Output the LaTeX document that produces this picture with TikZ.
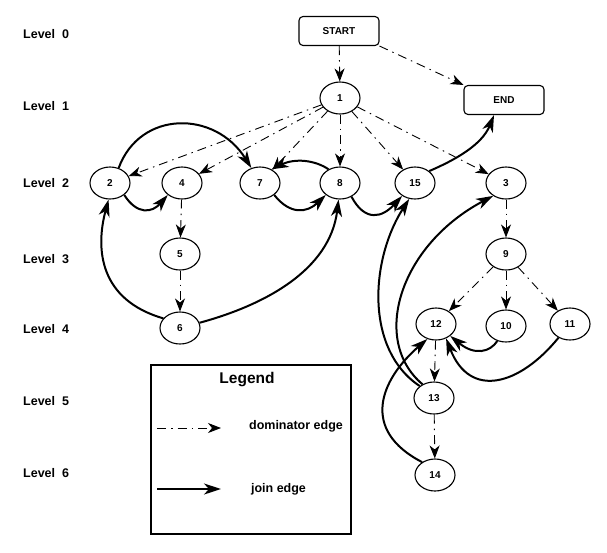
\documentclass[tikz,border=0pt]{standalone}
\usepackage{fontspec}
\setmainfont{Liberation Sans}
\usetikzlibrary{shapes.geometric,arrows.meta}
\begin{document}
\begin{tikzpicture}[x=1pt,y=-1pt,
  vert/.style={ellipse,draw,line width=1.1pt,minimum width=40pt,minimum height=32pt,inner sep=0pt,font=\bfseries\fontsize{10}{11}\selectfont},
  term/.style={rectangle,rounded corners=4pt,draw,line width=1.1pt,minimum width=80pt,minimum height=29pt,inner sep=0pt,font=\bfseries\fontsize{10}{11}\selectfont},
  lvl/.style={anchor=base west,inner sep=0pt,font=\bfseries\fontsize{12.5}{14}\selectfont},
  domedge/.style={line width=0.9pt,dash pattern=on 9pt off 5pt on 1.5pt off 5pt,-{Stealth[length=13pt,width=10pt,inset=4pt]}},
  joinedge/.style={line width=2pt,-{Stealth[length=17pt,width=11pt,inset=5pt]}}
]
\useasboundingbox (0,0) rectangle (607,552);
% levels
\node[lvl] (L0) at (23,38) {Level\ \ 0};
\node[lvl] (L1) at (23,110) {Level\ \ 1};
\node[lvl] (L2) at (23,187) {Level\ \ 2};
\node[lvl] (L3) at (23,263) {Level\ \ 3};
\node[lvl] (L4) at (23,333) {Level\ \ 4};
\node[lvl] (L5) at (23,405) {Level\ \ 5};
\node[lvl] (L6) at (23,477) {Level\ \ 6};
% nodes
\node[term] (start) at (339,31) {START};
\node[term] (end) at (504,100) {END};
\node[vert] (n1) at (340,98) {1};
\node[vert] (n2) at (110,183) {2};
\node[vert] (n4) at (182,183) {4};
\node[vert] (n7) at (260,183) {7};
\node[vert] (n8) at (340,183) {8};
\node[vert] (n15) at (415,183) {15};
\node[vert] (n3) at (506,183) {3};
\node[vert] (n5) at (180,254) {5};
\node[vert] (n6) at (180,328) {6};
\node[vert] (n9) at (506,254) {9};
\node[vert] (n12) at (436,324) {12};
\node[vert] (n10) at (506,326) {10};
\node[vert] (n11) at (570,324) {11};
\node[vert] (n13) at (434,398) {13};
\node[vert] (n14) at (435,475) {14};
% dominator edges
\draw[domedge] (start) -- (n1);
\draw[domedge] (start.south east) -- (end.north west);
\draw[domedge] (n1) -- (n2);
\draw[domedge] (n1) -- (n4);
\draw[domedge] (n1) -- (n7);
\draw[domedge] (n1) -- (n8);
\draw[domedge] (n1) -- (n15);
\draw[domedge] (n1) -- (n3);
\draw[domedge] (n4) -- (n5);
\draw[domedge] (n5) -- (n6);
\draw[domedge] (n3) -- (n9);
\draw[domedge] (n9) -- (n12);
\draw[domedge] (n9) -- (n10);
\draw[domedge] (n9) -- (n11);
\draw[domedge] (n12) -- (n13);
\draw[domedge] (n13) -- (n14);
% join edges
\draw[joinedge] (n2.60) .. controls (140,110) and (215,110) .. (n7.120);
\draw[joinedge] (n2.-40) .. controls (137,215) and (152,213) .. (n4.-140);
\draw[joinedge] (n7.-40) .. controls (290,215) and (307,213) .. (n8.-140);
\draw[joinedge] (n8.130) .. controls (315,160) and (295,158) .. (n7.50);
\draw[joinedge] (n8.-50) .. controls (365,222) and (382,218) .. (n15.-135);
\draw[joinedge] (n6.150) .. controls (100,300) and (95,250) .. (n2.-95);
\draw[joinedge] (n6.15) .. controls (265,305) and (330,270) .. (n8.-95);
\draw[joinedge] (n15.40) .. controls (455,160) and (482,145) .. ([xshift=-10pt]end.south);
\draw[joinedge] (n13.140) .. controls (365,350) and (370,260) .. (n15.-110);
\draw[joinedge] (n13.130) .. controls (370,340) and (400,245) .. (n3.-135);
\draw[joinedge] (n14.135) .. controls (360,430) and (380,380) .. (n12.-120);
\draw[joinedge] (n10.-120) .. controls (490,352) and (475,356) .. (n12.-40);
\draw[joinedge] (n11.-130) .. controls (520,385) and (470,400) .. (n12.-55);
% legend
\node[draw,line width=1.3pt,minimum width=200pt,minimum height=169pt,inner sep=0pt] (legend) at (251,449.5) {};
\node[font=\bfseries\fontsize{15.5}{17}\selectfont] (legtitle) at (247,380) {Legend};
\coordinate (d1) at (157,428);
\coordinate (d2) at (221,428);
\coordinate (j1) at (157,489);
\coordinate (j2) at (221,489);
\draw[domedge] (d1) -- (d2);
\draw[joinedge] (j1) -- (j2);
\node[font=\bfseries\fontsize{12.5}{14}\selectfont] (domtext) at (296,426) {dominator edge};
\node[font=\bfseries\fontsize{12.5}{14}\selectfont] (jointext) at (278.5,489) {join edge};
\end{tikzpicture}
\end{document}
